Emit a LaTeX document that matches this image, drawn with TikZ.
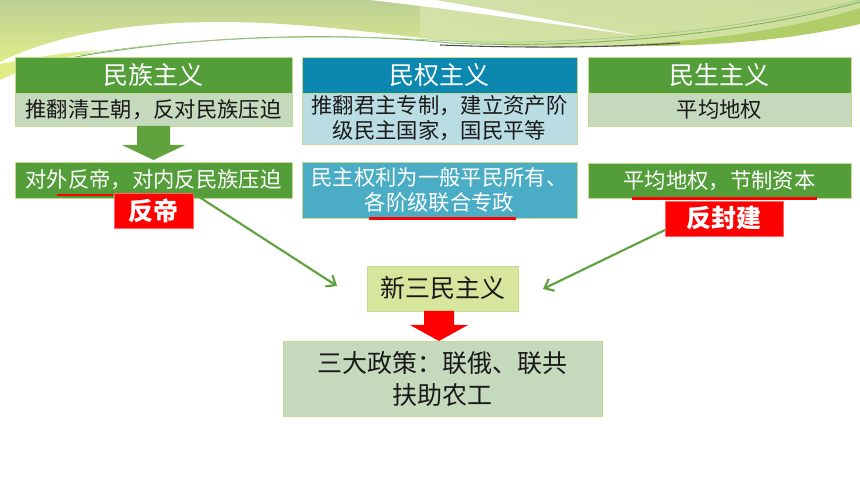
\documentclass[tikz,border=0pt]{standalone}
\usepackage{fontspec}
\setmainfont{Noto Sans CJK SC}
\usetikzlibrary{arrows.meta,calc}
\definecolor{hdrgreen}{RGB}{83,158,57}
\definecolor{subgreen}{RGB}{197,217,189}
\definecolor{hdrteal}{RGB}{11,135,176}
\definecolor{subteal}{RGB}{186,221,228}
\definecolor{secteal}{RGB}{75,173,197}
\definecolor{newgreen}{RGB}{214,230,156}
\definecolor{bordergreen}{RGB}{197,217,143}
\definecolor{arrowgreen}{RGB}{96,163,62}
\definecolor{bgA}{RGB}{188,208,150}
\definecolor{bgB}{RGB}{224,236,136}
\definecolor{bgC}{RGB}{214,228,172}
\definecolor{swoosh}{RGB}{176,205,104}
\tikzset{
  wh/.style 2 args={minimum width=#1*0.75pt, minimum height=#2*0.75pt},
  box/.style={draw=bordergreen, line width=0.6pt, inner sep=0pt, outer sep=0pt, align=center, anchor=center},
  hdr/.style={box, text=white, font=\fontsize{18.75}{22}\selectfont},
  subtxt/.style={box, text=black!90, font=\fontsize{16}{18.75}\selectfont},
  sectxt/.style={box, text=white, font=\fontsize{16}{18.75}\selectfont},
  tag/.style={box, draw=red!60, fill=red, text=white, font=\fontsize{18.75}{22}\selectfont\bfseries},
  uline/.style={red, line width=2.2pt},
  link/.style={arrowgreen, line width=1.6pt, -{Straight Barb[length=6pt,width=10pt,line width=1.6pt]}}
}
\begin{document}
\begin{tikzpicture}[x=0.75pt,y=-0.75pt]
\useasboundingbox (0,0) rectangle (860,484);
\fill[white] (0,0) rectangle (860,484);
% top decoration
\fill[bgB] (0,64) .. controls (30,58) and (60,53) .. (100,50) .. controls (60,58) and (25,68) .. (0,80) -- cycle;
\shade[top color=bgA, bottom color=bgB] (0,0) -- (860,0) -- (860,22) .. controls (760,42) and (650,50) .. (520,46) .. controls (420,42) and (330,22) .. (220,22) .. controls (140,22) and (60,32) .. (0,62) -- cycle;
\shade[left color=bgC, right color=bgC!80!swoosh, opacity=0.85] (420,0) -- (860,0) -- (860,22) .. controls (760,42) and (650,50) .. (520,46) .. controls (470,44) and (440,40) .. (420,36) -- cycle;
\fill[white] (370,0) .. controls (450,9) and (540,22) .. (640,36) .. controls (540,18) and (460,4) .. (435,0) -- cycle;
\fill[swoosh] (600,46) .. controls (720,42) and (810,24) .. (860,8) -- (860,24) .. controls (800,38) and (720,48) .. (600,46) -- cycle;
\fill[white] (220,24) .. controls (330,24) and (420,42) .. (520,47) -- (520,52) .. controls (400,44) and (300,34) .. (200,38) .. controls (150,40) and (110,44) .. (90,50) -- (60,40) .. controls (110,28) and (160,24) .. (220,24) -- cycle;
\draw[arrowgreen!80!white, line width=0.7pt] (70,58) .. controls (180,38) and (320,30) .. (450,43) .. controls (600,50) and (760,30) .. (860,2);
\draw[arrowgreen!60!white, line width=0.5pt] (80,55) .. controls (190,37) and (320,33) .. (450,41) .. controls (600,47) and (760,26) .. (860,0);
\draw[black!70, line width=0.8pt] (440,45) .. controls (520,48) and (600,48) .. (680,43);
% column 1
\node[hdr, fill=hdrgreen, wh={277}{36}] (h1) at (153.5,75) {民族主义};
\node[subtxt, fill=subgreen, wh={277}{33}] (s1) at (153.5,109.5) {推翻清王朝，反对民族压迫};
\node[sectxt, fill=hdrgreen, wh={277}{36}] (c1) at (153.5,180) {对外反帝，对内反民族压迫};
% column 2
\node[hdr, fill=hdrteal, wh={275}{36}] (h2) at (439.5,75) {民权主义};
\node[subtxt, fill=subteal, wh={275}{51}] (s2) at (439.5,118.5) {推翻君主专制，建立资产阶\\级民主国家，国民平等};
\node[sectxt, fill=secteal, wh={275}{56}] (c2) at (439.5,190) {民主权利为一般平民所有、\\各阶级联合专政};
% column 3
\node[hdr, fill=hdrgreen, wh={263}{36}] (h3) at (719.5,75) {民生主义};
\node[subtxt, fill=subgreen, wh={263}{33}] (s3) at (719.5,109.5) {平均地权};
\node[sectxt, fill=hdrgreen, wh={263}{35}] (c3) at (719.5,180.5) {平均地权，节制资本};
% green block arrow
\fill[arrowgreen] ($(s1.south)+(-16.5,0)$) -- ++(0,19) -- ++(-15,0) -- ($(c1.north)+(0,-2)$) -- ($(s1.south)+(31.5,19)$) -- ++(-15,0) -- ($(s1.south)+(16.5,0)$) -- cycle;
% underlines
\draw[uline] (57,195) -- (113,195);
\draw[uline] (369,218.5) -- (516,218.5);
\draw[uline] (632,198.5) -- (817,198.5);
% tags
\node[tag, wh={79}{35}] (fd) at (153.5,210.5) {反帝};
\node[tag, wh={118}{35}] (ffj) at (724,218.5) {反封建};
% centre
\node[box, fill=newgreen, text=black!90, font=\fontsize{18.75}{22}\selectfont, wh={151}{45}] (n3) at (442.5,288.5) {新三民主义};
\node[box, fill=subgreen, text=black!90, font=\fontsize{18.75}{24}\selectfont, wh={319}{75}] (pol) at (442.5,378.5) {三大政策：联俄、联共\\扶助农工};
% red block arrow
\fill[red] (424,311) -- (424,325) -- (410,325) -- (439,341) -- (468,325) -- (454,325) -- (454,311) -- cycle;
% green links
\coordinate (t1) at (337,286);
\coordinate (t2) at (543,289);
\draw[link] (fd.north east) -- (t1);
\draw[link] ($(ffj.south west)+(0,-6)$) -- (t2);
\end{tikzpicture}
\end{document}
